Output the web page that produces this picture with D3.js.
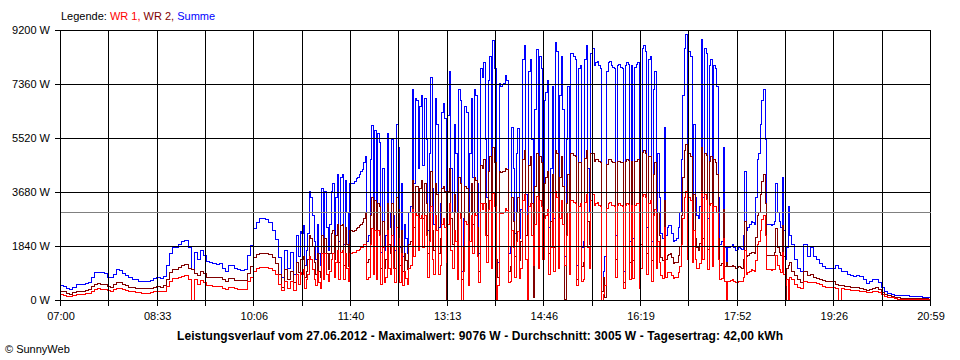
<!DOCTYPE html>
<html><head><meta charset="utf-8">
<script src="https://cdn.jsdelivr.net/npm/d3@7"></script>
<style>
body{margin:0;background:#fff}
svg{display:block}
text{font-family:"Liberation Sans",Arial,sans-serif;font-size:11px;fill:#000}
</style>
</head><body>
<svg id="c" width="960" height="360"></svg>
<script>
// ---- sampling: 3 min until 10:45, 1.5 min from 10:48 to 18:45, 3 min afterwards ----
const sampleSegments = [
  {from: 420,  step: 3,   count: 76},
  {from: 648,  step: 1.5, count: 319},
  {from: 1128, step: 3,   count: 44}
];
const startMinute = 420;   // 07:00
const endMinute = 1259;    // 20:59

// ---- data (W) ----
const summe = [
510,470,400,370,440,530,550,560,570,620,
780,940,960,950,930,800,780,900,1040,1020,
930,850,780,720,700,660,660,650,650,680,
760,770,740,820,1200,1600,1800,1800,1900,2000,
2040,1800,1050,1620,1400,1700,1550,1330,1300,1250,
1240,1250,1100,980,1200,1200,1080,1060,1030,1050,
1530,1870,2450,2650,2800,2780,2760,2670,2400,2080,
1450,800,1700,1100,1650,900,
2200,1500,2350,2300,2550,1200,1700,2300,3700,3500,
2900,2000,1400,2600,1600,1200,3800,2000,3700,2500,
1700,2600,3700,4000,2200,3500,4300,2000,4200,4300,
1900,4100,3000,1800,4000,4000,4000,4050,4150,4200,
4300,4400,4450,4700,4900,2000,2200,4800,5950,2500,
5800,1900,5700,5400,1650,4500,1700,2200,5700,3000,
2500,5500,2900,1700,6000,5200,1800,4000,1500,2600,
2100,1600,3000,3200,7200,4000,6900,6800,4500,6600,
7000,4600,6900,5500,2400,5000,7600,3800,2600,6900,
6000,2500,3300,6400,6700,6200,1300,6300,7800,4500,
3000,6000,5000,2000,7200,6800,1000,2800,6600,6400,
1400,5000,6900,4200,7200,7000,4000,1600,7900,7600,
8100,5500,3500,7500,8300,3000,8850,7900,1400,1300,
7400,7300,7350,7400,7650,7500,1600,1800,5900,4500,
2300,5000,5850,2100,3100,8200,8700,3600,2900,7800,
8200,5500,1400,6500,8550,3000,8300,7900,3600,6800,
7100,7500,2500,4500,7300,2800,8800,8500,3100,7000,
8300,6500,1500,5500,7300,2500,8400,8400,8300,8200,
1200,7900,8000,1800,2000,8200,8700,4500,3000,8400,
8600,8000,8100,8150,8000,7900,300,1000,1500,7800,
8100,8150,8000,7950,7900,2200,8000,8050,7950,7900,
1000,8000,8100,8050,2000,8000,2100,7950,8050,8100,
1200,3000,8600,8700,8500,2500,8200,8300,2000,7200,
7800,3000,5000,3500,2300,2100,5900,2200,2500,2550,
2550,2300,2000,2050,2100,2500,3000,4800,7000,8600,
9076,3500,8500,8300,3300,6000,3500,2900,2800,3200,
8900,3500,8600,8400,2800,8000,8200,3000,8000,7900,
7300,3500,1900,2000,5200,1800,1300,1800,1800,1850,
1900,1800,1700,1750,1800,1780,1750,2200,4400,2400,
2500,2600,2700,2650,2600,3500,4800,5000,6000,6800,
7200,5500,2600,2600,2600,2550,2600,2700,4000,3000,
2700,2500,4200,2400,1400,1800,3200,2200,1900,
1400,1100,1000,1900,
1500,1800,1500,1400,1250,1150,1100,1080,1080,1190,
1100,1000,980,900,850,820,840,830,700,580,
650,700,720,620,450,300,230,200,170,180,
170,180,160,150,140,130,120,115,110,100
];

const wr2 = [
318,290,230,210,260,300,310,318,330,380,
480,560,570,560,540,470,460,540,620,600,
560,500,460,430,420,400,400,397,397,410,
450,470,450,500,720,950,1060,1050,1120,1190,
1220,1100,1050,920,850,1000,920,800,790,780,
770,780,700,660,760,760,690,680,670,680,
920,1150,1450,1560,1600,1600,1590,1560,1480,1270,
900,450,1050,700,980,600,
1300,950,1400,1400,1500,800,1000,1400,2200,2100,
1850,1300,900,1600,1000,800,2200,1300,2100,1600,
1050,1600,2300,2400,1400,2200,2600,1300,2550,2600,
1200,2500,1900,1150,2400,2400,2350,2400,2450,2500,
2550,2600,2650,2800,3000,1300,1400,2900,3500,1600,
3400,1200,3300,3200,1100,2700,1100,1400,3300,1900,
1600,3300,1800,1100,3500,3100,1200,2400,1000,1600,
1350,1050,1900,2000,4100,2500,3900,3900,2800,3800,
4100,2800,4000,3300,1600,3000,4400,2400,1700,4000,
3600,1600,2100,3800,3900,3700,0,3700,4500,2800,
1900,3600,3000,1300,4200,4000,700,1800,3900,3800,
900,3000,4000,2600,4200,4100,2500,1000,4600,4500,
4800,3300,2200,4400,4900,1900,5200,4700,1400,800,
4400,4350,4400,4400,4500,4450,1000,1150,3500,2700,
1500,3000,3500,1350,2000,4800,5100,2200,2900,4600,
4900,3300,100,3900,5000,1900,4900,4700,2200,4000,
4200,4400,1600,2700,4300,1800,5100,5000,2000,4200,
4900,3900,50,3300,4300,1600,5000,5000,4950,4900,
700,4700,4700,1150,1300,4850,5100,2700,1900,5000,
5000,4750,4800,4800,4750,4700,300,800,100,4650,
4800,4800,4750,4700,4700,1400,4750,4750,4700,4700,
600,4750,4800,4780,1300,4750,1350,4720,4750,4800,
800,1900,5050,5100,5000,1600,4900,4900,1350,4300,
4700,1900,3000,2200,1450,1350,3400,1400,1550,1580,
1600,1450,1250,1280,1300,1550,1850,2900,4200,5100,
5300,2100,5000,4900,2000,3600,2100,1800,1700,1950,
5200,2100,5000,4950,1750,4750,4900,1850,4800,4700,
4300,2100,1200,1250,3100,1150,1300,1150,1150,1170,
1200,1150,1100,1120,1150,1130,1100,1400,2700,1500,
1550,1600,1650,1620,1600,2150,2900,3000,3600,4050,
4300,3300,1550,1550,1550,1530,1550,1650,2450,1800,
1650,1550,2550,1500,0,1100,1200,1300,1000,
850,700,620,1000,
850,900,800,760,720,680,660,660,650,560,
520,500,490,470,460,450,450,420,390,340,
370,400,440,360,260,190,160,150,110,90,
80,80,70,70,65,60,60,55,55,50
];

const wr1 = [
204,180,150,136,160,200,210,210,230,250,
310,390,400,390,380,330,320,360,420,410,
380,340,310,290,280,260,255,250,250,265,
300,300,290,320,480,650,760,760,790,830,
840,700,0,700,560,680,620,520,510,490,
480,490,420,390,460,460,400,390,380,390,
640,780,1000,1100,1140,1140,1130,1090,1020,870,
560,350,650,420,640,330,
900,550,950,900,1050,400,700,900,1500,1400,
1050,700,500,1000,600,400,1600,700,1600,900,
650,1000,1400,1600,800,1300,1700,700,1650,1700,
700,1600,1100,650,1600,1600,1650,1650,1700,1700,
1750,1800,1800,1900,1900,700,800,1900,2450,900,
2400,700,2400,2200,550,1800,600,800,2400,1100,
900,2200,1100,600,2500,2100,600,1600,500,1000,
750,550,1100,1200,3100,1500,3000,2900,1700,2800,
2900,1800,2900,2200,800,2000,3200,1400,900,2900,
2400,900,1200,2600,2800,2500,1300,2600,3300,1700,
1100,2400,2000,700,3000,2800,0,1000,2700,2600,
500,2000,2900,1600,3000,2900,1500,600,3300,3100,
3300,2200,1300,3100,3400,1100,3650,3200,0,500,
3000,2950,2950,3000,3150,3050,600,650,2400,1800,
800,2000,2350,750,1100,3400,3600,1400,0,3200,
3300,2200,1200,2600,3550,1100,3400,3200,1400,2800,
2900,3100,900,1800,3000,1000,3700,3500,1100,2800,
3400,2600,1200,2200,3000,900,3400,3400,3350,3300,
500,3200,3300,650,700,3350,3600,1800,1100,3400,
3600,3250,3300,3350,3250,3200,0,200,500,3150,
3300,3350,3250,3250,3200,800,3250,3300,3250,3200,
400,3250,3300,3270,700,3250,750,3230,3300,3300,
400,1100,3550,3600,3500,900,3300,3400,650,2900,
3100,1100,2000,1300,850,750,2500,800,950,950,
950,850,750,780,800,950,1150,1900,2800,3500,
3700,1400,3500,3400,1300,2400,1400,1100,1100,1250,
3700,1400,3600,3450,1050,3250,3300,1150,3200,3200,
3000,1400,700,750,2100,650,0,650,650,680,
700,650,600,630,650,650,650,800,1700,900,
950,1000,1050,1030,1000,1350,1900,2000,2400,2750,
2900,2200,1050,1050,1050,1020,1050,1050,1550,1200,
1050,950,1650,900,500,700,0,800,700,
550,450,420,650,
600,620,600,580,560,480,450,440,440,420,
0,400,380,360,350,340,340,320,300,260,
280,300,320,260,190,130,110,90,60,45,
40,40,35,30,30,28,25,25,25,20
];

const yTicks = [0, 1840, 3680, 5520, 7360, 9200];
const xLabels = ["07:00","08:33","10:06","11:40","13:13","14:46","16:19","17:52","19:26","20:59"];
const average = 3005;
const legendItems = ["WR 1", "WR 2", "Summe"];
const seriesColors = ["#ff0000", "#800000", "#0000ff"];
const titleText = "Leistungsverlauf vom 27.06.2012 - Maximalwert: 9076 W - Durchschnitt: 3005 W - Tagesertrag: 42,00 kWh";

// ---- drawing ----
const times = [];
sampleSegments.forEach(s => { for (let k = 0; k < s.count; k++) times.push(s.from + k * s.step); });
[summe, wr2, wr1].forEach((a, i) => { if (a.length !== times.length) console.error("length mismatch", i, a.length, times.length); });

const svg = d3.select("#c");
const x = d3.scaleLinear().domain([startMinute, endMinute]).range([60, 930]);
const y = d3.scaleLinear().domain([0, 9200]).range([300, 30]);
const snap = v => Math.round(v) + 0.5;

svg.append("defs").append("clipPath").attr("id","clip")
  .append("rect").attr("x",60).attr("y",29).attr("width",871).attr("height",272);

const plot = svg.append("g").attr("clip-path","url(#clip)");
const line = d3.line().curve(d3.curveStepAfter);
const series = [
  {values: summe, color: seriesColors[2]},
  {values: wr2, color: seriesColors[1]},
  {values: wr1, color: seriesColors[0]}
];
series.forEach(s => {
  const pts = s.values.map((v, i) => [snap(x(times[i])), snap(y(v))]);
  pts.push([snap(x(endMinute)), pts[pts.length - 1][1]]);
  plot.append("path")
    .attr("d", line(pts))
    .attr("fill", "none")
    .attr("stroke", s.color)
    .attr("stroke-width", 1)
    .attr("shape-rendering", "crispEdges");
});

// grid (drawn over the data, as in the original)
const gridT = d3.range(19).map(k => startMinute + k * (endMinute - startMinute) / 18);
const grid = svg.append("g").attr("stroke", "#000").attr("stroke-width", 1).attr("shape-rendering", "crispEdges");
grid.selectAll("line.v").data(gridT).join("line").attr("class","v")
  .attr("x1", d => snap(x(d))).attr("x2", d => snap(x(d)))
  .attr("y1", snap(y(9200))).attr("y2", snap(y(0)) + 5);
grid.selectAll("line.h").data(yTicks).join("line").attr("class","h")
  .attr("x1", snap(x(startMinute)) - 6).attr("x2", snap(x(endMinute)))
  .attr("y1", d => snap(y(d))).attr("y2", d => snap(y(d)));

// average line
svg.append("line")
  .attr("x1", snap(x(startMinute))).attr("x2", snap(x(endMinute)))
  .attr("y1", snap(y(average))).attr("y2", snap(y(average)))
  .attr("stroke", "#808080").attr("stroke-width", 1).attr("shape-rendering", "crispEdges");

// y labels
svg.append("g").selectAll("text").data(yTicks).join("text")
  .attr("x", 50).attr("y", d => y(d) + 3.5)
  .attr("text-anchor", "end")
  .text(d => d + " W");

// x labels
svg.append("g").selectAll("text").data(xLabels).join("text")
  .attr("x", (d, i) => x(gridT[i * 2]) + 1)
  .attr("y", 320)
  .attr("text-anchor", "middle")
  .text(d => d);

// legend
const leg = svg.append("text").attr("x", 61).attr("y", 20);
leg.append("tspan").text("Legende: ");
legendItems.forEach((name, i) => {
  leg.append("tspan").attr("fill", seriesColors[i]).text(name + (i < legendItems.length - 1 ? ", " : ""));
});

// title
svg.append("text")
  .attr("x", 480).attr("y", 340)
  .attr("text-anchor", "middle")
  .attr("font-weight", "bold")
  .style("font-size", "12px")
  .attr("textLength", 606)
  .attr("lengthAdjust", "spacing")
  .text(titleText);

svg.append("text").attr("x", 5).attr("y", 353).text("© SunnyWeb");
</script>
</body></html>
